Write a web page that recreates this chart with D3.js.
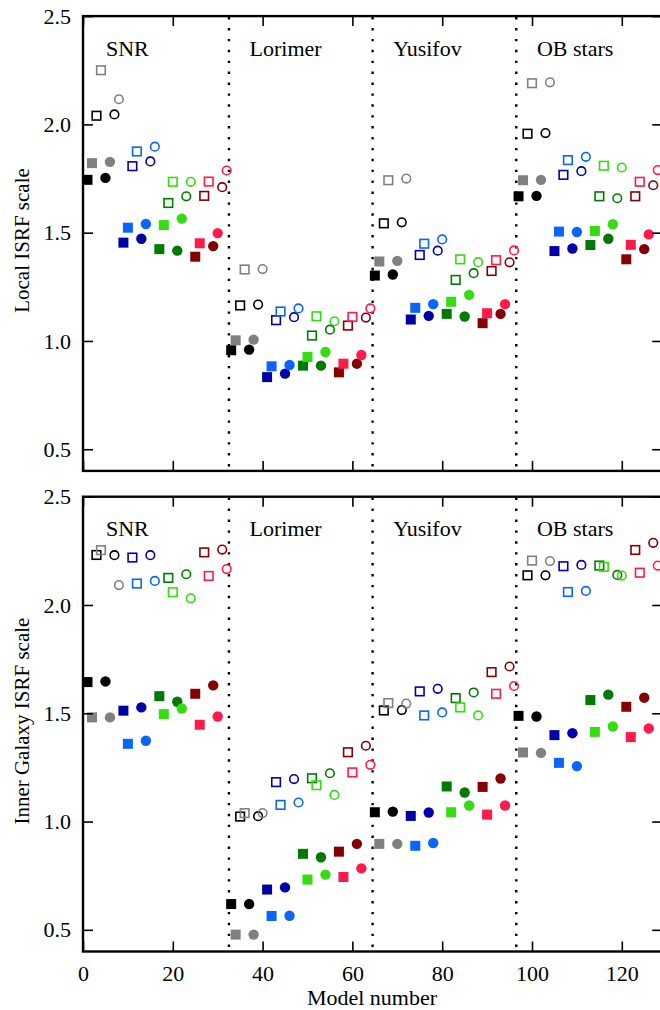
<!DOCTYPE html>
<html><head><meta charset="utf-8">
<script src="https://cdn.jsdelivr.net/npm/d3@7"></script>
<style>html,body{margin:0;padding:0;background:#fff;}svg{display:block;}</style>
</head><body>
<script>
// ---- data ----
const regions = ["SNR", "Lorimer", "Yusifov", "OB stars"];
const xTicks = [0, 20, 40, 60, 80, 100, 120];
const yTicks = [0.5, 1.0, 1.5, 2.0, 2.5];
const panelTitles = ["Local ISRF scale", "Inner Galaxy ISRF scale"];
const xTitle = "Model number";

// 32 models per region: 4 colour families x [dark ■, light ■, dark □, light □, dark ●, light ●, dark ○, light ○]
const localSNR = [1.744,1.821,2.040,2.250,1.753,1.827,2.046,2.116, 1.454,1.523,1.807,1.875,1.472,1.540,1.829,1.897, 1.424,1.535,1.637,1.735,1.417,1.565,1.668,1.735, 1.389,1.451,1.670,1.736,1.438,1.498,1.710,1.787];
const localLorimer = [0.957,1.003,1.164,1.330,0.960,1.006,1.168,1.332, 0.833,0.883,1.096,1.136,0.849,0.889,1.110,1.150, 0.886,0.926,1.025,1.114,0.886,0.949,1.052,1.091, 0.855,0.895,1.071,1.111,0.895,0.935,1.108,1.150];
const localYusifov = [1.302,1.367,1.543,1.742,1.307,1.370,1.548,1.750, 1.099,1.153,1.397,1.449,1.116,1.170,1.417,1.469, 1.125,1.181,1.282,1.377,1.113,1.213,1.313,1.364, 1.082,1.128,1.323,1.373,1.125,1.170,1.363,1.418];
const localOB = [1.668,1.742,1.957,2.190,1.670,1.744,1.960,2.194, 1.415,1.505,1.767,1.835,1.427,1.503,1.784,1.850, 1.443,1.508,1.668,1.809,1.472,1.539,1.659,1.801, 1.377,1.444,1.668,1.735,1.424,1.492,1.719,1.789];

const innerSNR = [1.644,1.481,2.231,2.253,1.647,1.481,2.230,2.092, 1.512,1.359,2.219,2.099,1.527,1.373,2.230,2.111, 1.579,1.496,2.125,2.059,1.553,1.522,2.142,2.031, 1.590,1.447,2.243,2.134,1.629,1.485,2.256,2.166];
const innerLorimer = [0.619,0.478,1.023,1.039,0.619,0.478,1.025,1.039, 0.686,0.564,1.182,1.077,0.696,0.565,1.196,1.088, 0.851,0.732,1.200,1.168,0.835,0.755,1.223,1.123, 0.861,0.744,1.320,1.227,0.897,0.784,1.350,1.262];
const innerYusifov = [1.043,0.897,1.513,1.547,1.046,0.897,1.515,1.545, 1.026,0.888,1.601,1.490,1.042,0.901,1.613,1.504, 1.162,1.043,1.570,1.527,1.134,1.074,1.596,1.490, 1.160,1.032,1.690,1.590,1.199,1.074,1.716,1.626];
const innerOB = [1.488,1.319,2.137,2.205,1.485,1.317,2.137,2.203, 1.399,1.271,2.179,2.060,1.408,1.256,2.185,2.065, 1.561,1.414,2.182,2.176,1.586,1.439,2.139,2.136, 1.530,1.390,2.254,2.149,1.572,1.430,2.287,2.182];

// ---- styles ----
const familyColors = [["#000000", "#808080"], ["#0000a8", "#0a64ff"], ["#007a00", "#33dd11"], ["#850000", "#ff1a4a"]];

const W = 660, H = 1010;
const svg = d3.select("body").append("svg").attr("width", W).attr("height", H);
const FONT = "Liberation Serif, Times New Roman, serif";

const x = d3.scaleLinear().domain([0, 129]).range([83, 83 + 129 * 4.49]);
const panels = [
  { values: [localSNR, localLorimer, localYusifov, localOB], top: 16.1, bottom: 470.9 },
  { values: [innerSNR, innerLorimer, innerYusifov, innerOB], top: 496.7, bottom: 951.5 }
];

panels.forEach((p, pi) => {
  const y = d3.scaleLinear().domain([0.4, 2.5]).range([p.bottom, p.top]);
  const g = svg.append("g");
  const x0 = x.range()[0], x1 = x.range()[1];

  // dotted separators
  [32.5, 64.5, 96.5].forEach(v => {
    g.append("line").attr("x1", x(v)).attr("x2", x(v)).attr("y1", p.top + 1).attr("y2", p.bottom)
      .attr("stroke", "#000").attr("stroke-width", 2.4).attr("stroke-dasharray", "2.4,8.5");
  });

  // points
  const pts = [];
  p.values.forEach((arr, ri) => arr.forEach((v, k) => {
    const fam = Math.floor(k / 8), m = k % 8;
    pts.push({ model: ri * 32 + k + 1, v, color: familyColors[fam][m % 2], circle: m >= 4, filled: (m % 4) < 2 });
  }));
  const pg = g.append("g");
  pts.forEach(d => {
    const cx = x(d.model), cy = y(d.v);
    if (d.circle) {
      const c = pg.append("circle").attr("cx", cx).attr("cy", cy);
      if (d.filled) c.attr("r", 5.2).attr("fill", d.color);
      else c.attr("r", 4.3).attr("fill", "none").attr("stroke", d.color).attr("stroke-width", 1.6);
    } else {
      if (d.filled) pg.append("rect").attr("x", cx - 5).attr("y", cy - 5).attr("width", 10).attr("height", 10).attr("fill", d.color);
      else pg.append("rect").attr("x", cx - 4.3).attr("y", cy - 4.3).attr("width", 8.6).attr("height", 8.6)
        .attr("fill", "none").attr("stroke", d.color).attr("stroke-width", 1.6);
    }
  });

  // axes (ticks inward)
  const axL = d3.axisLeft(y).tickValues(yTicks).tickSize(-10).tickPadding(12).tickFormat(d3.format(".1f"));
  const axR = d3.axisRight(y).tickValues(yTicks).tickSize(-10).tickFormat("");
  const axT = d3.axisTop(x).tickValues(xTicks).tickSize(-10).tickFormat("");
  const axB = d3.axisBottom(x).tickValues(xTicks).tickSize(-10).tickPadding(14).tickFormat(pi === 1 ? d3.format("d") : "");
  [[axL, `translate(${x0},0)`], [axR, `translate(${x1},0)`], [axT, `translate(0,${p.top})`], [axB, `translate(0,${p.bottom})`]]
    .forEach(([ax, tr]) => {
      const a = g.append("g").attr("transform", tr).call(ax);
      a.select(".domain").remove();
      a.selectAll(".tick line").attr("stroke", "#000").attr("stroke-width", 1.6);
      a.selectAll("text").attr("font-family", FONT).attr("font-size", 22).attr("fill", "#000");
    });

  // frame
  g.append("rect").attr("x", x0).attr("y", p.top).attr("width", x1 - x0).attr("height", p.bottom - p.top)
    .attr("fill", "none").attr("stroke", "#000").attr("stroke-width", 2.4);

  // region labels
  regions.forEach((r, ri) => {
    g.append("text").attr("x", x(ri * 32 + 5.1)).attr("y", p.top + 39.5).text(r)
      .attr("font-family", FONT).attr("font-size", 22).attr("fill", "#000");
  });

  // y title
  g.append("text").attr("transform", `translate(29,${(p.top + p.bottom) / 2 - 3}) rotate(-90)`)
    .attr("text-anchor", "middle").text(panelTitles[pi])
    .attr("font-family", FONT).attr("font-size", 21).attr("fill", "#000");
});

svg.append("text").attr("x", 372).attr("y", 1005).attr("text-anchor", "middle").text(xTitle)
  .attr("font-family", FONT).attr("font-size", 22).attr("fill", "#000");
</script>
</body></html>
